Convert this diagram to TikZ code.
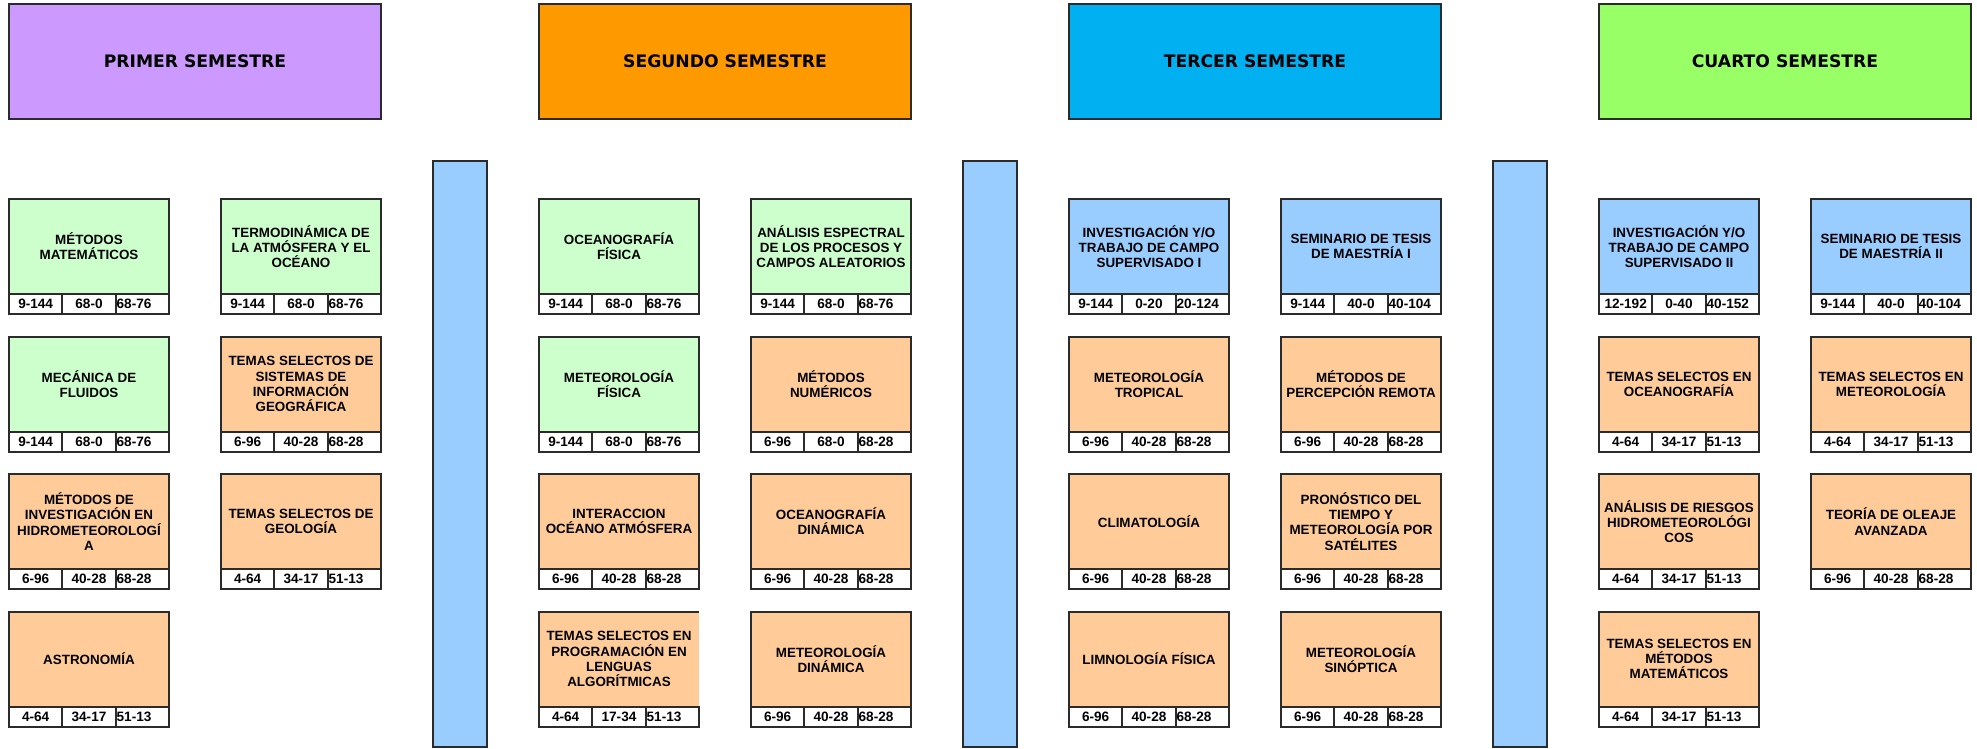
\documentclass[tikz,border=0pt]{standalone}
\usepackage{fontspec}
\setmainfont{Liberation Sans}
\newfontfamily\semfont{DejaVu Sans}
\usetikzlibrary{positioning}
\definecolor{lila}{HTML}{CC99FF}
\definecolor{naranjaf}{HTML}{FF9900}
\definecolor{cian}{HTML}{00B0F0}
\definecolor{lima}{HTML}{99FF66}
\definecolor{verdec}{HTML}{CCFFCC}
\definecolor{durazno}{HTML}{FFCC99}
\definecolor{azulc}{HTML}{99CCFF}
\definecolor{borde}{HTML}{2B2B2B}
\tikzset{
    mysem/.style = {rectangle, line width=1pt, draw=borde, outer sep=0pt, minimum width=186pt, minimum height=57.65pt, font=\semfont\bfseries\fontsize{8.6}{10}\selectfont, text=black},
    mybar/.style = {rectangle, line width=1pt, draw=borde, fill=azulc, outer sep=0pt, minimum width=26.7pt, minimum height=293pt},
    mynode/.style = {rectangle, line width=1pt, draw=borde, outer sep=0pt, minimum width=80pt, minimum height=47.5pt, align=center, inner sep=1pt, font=\bfseries\fontsize{6.7}{7.6}\selectfont, text=black},
    mynodev/.style = {mynode, fill=verdec}, % obligatoria
    mynodeo/.style = {mynode, fill=durazno}, % optativa
    mynodea/.style = {mynode, fill=azulc}, % tesis
    mynodesb/.style = {mynodeo, draw=none},
    mycell/.style = {rectangle, line width=1pt, draw=borde, fill=white, outer sep=0pt, minimum width=26.667pt, minimum height=10pt, inner sep=0pt, font=\bfseries\fontsize{6.8}{7.6}\selectfont, text=black},
    mycelll/.style = {mycell, text width=25.667pt, inner xsep=0.5pt, align=left},
    edgen/.style = {-, line width=1pt, borde}
}
% materia: nombre, estilo, posicion, texto, tres cifras
\newcommand{\materia}[7]{%
    \node[#2] (#1) at (#3) {#4};
    \node[mycell, below right=0pt and 0pt of #1.south west, anchor=north west] (#1-a) {#5};
    \node[mycell, right=0pt of #1-a] (#1-b) {#6};
    \node[mycelll, right=0pt of #1-b] (#1-c) {#7};
}
\begin{document}
\begin{tikzpicture}[x=0.5pt,y=-0.5pt]
\useasboundingbox (0,0) rectangle (1977,749);

\node[mysem, fill=lila] at (195, 61.65) (primer) {PRIMER SEMESTRE};
\node[mysem, fill=naranjaf] at (725, 61.65) (segundo) {SEGUNDO SEMESTRE};
\node[mysem, fill=cian] at (1255, 61.65) (tercer) {TERCER SEMESTRE};
\node[mysem, fill=lima] at (1785, 61.65) (cuarto) {CUARTO SEMESTRE};

\node[mybar] at (460, 454) (barra1) {};
\node[mybar] at (990, 454) (barra2) {};
\node[mybar] at (1520, 454) (barra3) {};

% primer semestre
\materia{metmat}{mynodev}{89,246.5}{MÉTODOS\\MATEMÁTICOS}{9-144}{68-0}{68-76}
\materia{termo}{mynodev}{301,246.5}{TERMODINÁMICA DE\\LA ATMÓSFERA Y EL\\OCÉANO}{9-144}{68-0}{68-76}
\materia{mecflu}{mynodev}{89,384}{MECÁNICA DE\\FLUIDOS}{9-144}{68-0}{68-76}
\materia{sig}{mynodeo}{301,384}{TEMAS SELECTOS DE\\SISTEMAS DE\\INFORMACIÓN\\GEOGRÁFICA}{6-96}{40-28}{68-28}
\materia{metinv}{mynodeo}{89,521.5}{MÉTODOS DE\\INVESTIGACIÓN EN\\HIDROMETEOROLOGÍ\\A}{6-96}{40-28}{68-28}
\materia{geol}{mynodeo}{301,521.5}{TEMAS SELECTOS DE\\GEOLOGÍA}{4-64}{34-17}{51-13}
\materia{astro}{mynodeo}{89,659}{ASTRONOMÍA}{4-64}{34-17}{51-13}

% segundo semestre
\materia{oceafis}{mynodev}{619,246.5}{OCEANOGRAFÍA\\FÍSICA}{9-144}{68-0}{68-76}
\materia{espec}{mynodev}{831,246.5}{ANÁLISIS ESPECTRAL\\DE LOS PROCESOS Y\\CAMPOS ALEATORIOS}{9-144}{68-0}{68-76}
\materia{meteofis}{mynodev}{619,384}{METEOROLOGÍA\\FÍSICA}{9-144}{68-0}{68-76}
\materia{metnum}{mynodeo}{831,384}{MÉTODOS\\NUMÉRICOS}{6-96}{68-0}{68-28}
\materia{interac}{mynodeo}{619,521.5}{INTERACCION\\OCÉANO ATMÓSFERA}{6-96}{40-28}{68-28}
\materia{oceadin}{mynodeo}{831,521.5}{OCEANOGRAFÍA\\DINÁMICA}{6-96}{40-28}{68-28}
\materia{prog}{mynodesb}{619,659}{TEMAS SELECTOS EN\\PROGRAMACIÓN EN\\LENGUAS\\ALGORÍTMICAS}{4-64}{17-34}{51-13}
\draw[edgen] (prog.south west) -- (prog.north west) -- (prog.north east);
\materia{meteodin}{mynodeo}{831,659}{METEOROLOGÍA\\DINÁMICA}{6-96}{40-28}{68-28}

% tercer semestre
\materia{invuno}{mynodea}{1149,246.5}{INVESTIGACIÓN Y/O\\TRABAJO DE CAMPO\\SUPERVISADO I}{9-144}{0-20}{20-124}
\materia{semuno}{mynodea}{1361,246.5}{SEMINARIO DE TESIS\\DE MAESTRÍA I}{9-144}{40-0}{40-104}
\materia{tropical}{mynodeo}{1149,384}{METEOROLOGÍA\\TROPICAL}{6-96}{40-28}{68-28}
\materia{percep}{mynodeo}{1361,384}{MÉTODOS DE\\PERCEPCIÓN REMOTA}{6-96}{40-28}{68-28}
\materia{clima}{mynodeo}{1149,521.5}{CLIMATOLOGÍA}{6-96}{40-28}{68-28}
\materia{pronos}{mynodeo}{1361,521.5}{PRONÓSTICO DEL\\TIEMPO Y\\METEOROLOGÍA POR\\SATÉLITES}{6-96}{40-28}{68-28}
\materia{limno}{mynodeo}{1149,659}{LIMNOLOGÍA FÍSICA}{6-96}{40-28}{68-28}
\materia{sinop}{mynodeo}{1361,659}{METEOROLOGÍA\\SINÓPTICA}{6-96}{40-28}{68-28}

% cuarto semestre
\materia{invdos}{mynodea}{1679,246.5}{INVESTIGACIÓN Y/O\\TRABAJO DE CAMPO\\SUPERVISADO II}{12-192}{0-40}{40-152}
\materia{semdos}{mynodea}{1891,246.5}{SEMINARIO DE TESIS\\DE MAESTRÍA II}{9-144}{40-0}{40-104}
\materia{tsocea}{mynodeo}{1679,384}{TEMAS SELECTOS EN\\OCEANOGRAFÍA}{4-64}{34-17}{51-13}
\materia{tsmeteo}{mynodeo}{1891,384}{TEMAS SELECTOS EN\\METEOROLOGÍA}{4-64}{34-17}{51-13}
\materia{riesgos}{mynodeo}{1679,521.5}{ANÁLISIS DE RIESGOS\\HIDROMETEOROLÓGI\\COS}{4-64}{34-17}{51-13}
\materia{oleaje}{mynodeo}{1891,521.5}{TEORÍA DE OLEAJE\\AVANZADA}{6-96}{40-28}{68-28}
\materia{tsmetmat}{mynodeo}{1679,659}{TEMAS SELECTOS EN\\MÉTODOS\\MATEMÁTICOS}{4-64}{34-17}{51-13}
\end{tikzpicture}
\end{document}
